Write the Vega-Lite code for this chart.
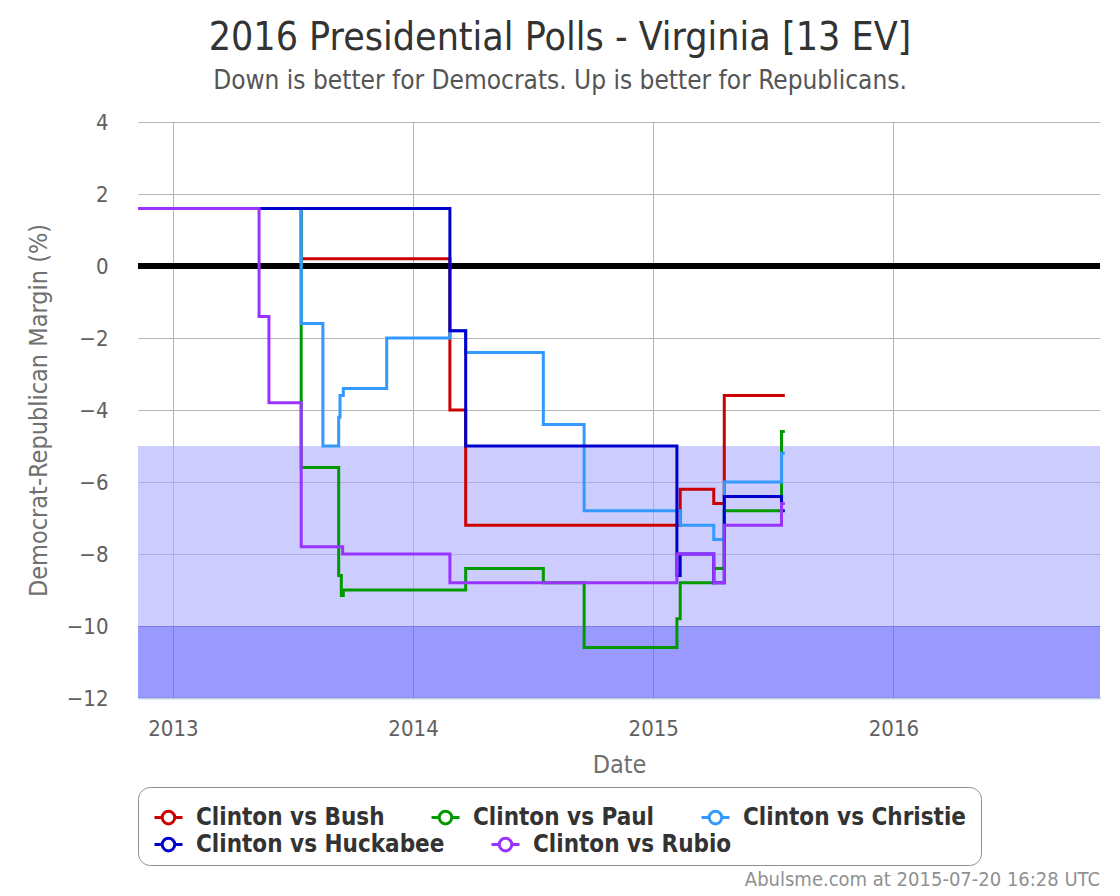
{
  "$schema": "https://vega.github.io/schema/vega-lite/v6.json",
  "width": 962,
  "height": 576,
  "autosize": {"type": "none"},
  "padding": {"left": 138, "top": 122, "right": 20, "bottom": 198},
  "background": "white",
  "config": {
    "font": "DejaVu Sans Condensed, DejaVu Sans",
    "view": {"stroke": null}
  },
  "title": {
    "text": "2016 Presidential Polls - Virginia [13 EV]",
    "subtitle": "Down is better for Democrats. Up is better for Republicans.",
    "anchor": "middle",
    "dx": -59,
    "offset": 17,
    "fontSize": 39,
    "fontWeight": "normal",
    "color": "#333333",
    "subtitleFontSize": 26,
    "subtitleColor": "#555555",
    "subtitlePadding": 10,
    "font": "DejaVu Sans Condensed, DejaVu Sans",
    "subtitleFont": "DejaVu Sans Condensed, DejaVu Sans"
  },
  "datasets": {
    "polls": [
      {"s": "Clinton vs Bush", "d": "2012-11-09", "v": 1.6},
      {"s": "Clinton vs Bush", "d": "2013-07-15", "v": 0.2},
      {"s": "Clinton vs Bush", "d": "2014-02-26", "v": -4.0},
      {"s": "Clinton vs Bush", "d": "2014-03-22", "v": -7.2},
      {"s": "Clinton vs Bush", "d": "2015-02-11", "v": -6.2},
      {"s": "Clinton vs Bush", "d": "2015-04-03", "v": -6.6},
      {"s": "Clinton vs Bush", "d": "2015-04-19", "v": -3.6},
      {"s": "Clinton vs Bush", "d": "2015-07-20", "v": -3.6},
      {"s": "Clinton vs Paul", "d": "2012-11-09", "v": 1.6},
      {"s": "Clinton vs Paul", "d": "2013-07-15", "v": -5.6},
      {"s": "Clinton vs Paul", "d": "2013-09-10", "v": -8.6},
      {"s": "Clinton vs Paul", "d": "2013-09-14", "v": -9.15},
      {"s": "Clinton vs Paul", "d": "2013-09-17", "v": -9.0},
      {"s": "Clinton vs Paul", "d": "2014-03-22", "v": -8.4},
      {"s": "Clinton vs Paul", "d": "2014-07-18", "v": -8.8},
      {"s": "Clinton vs Paul", "d": "2014-09-18", "v": -10.6},
      {"s": "Clinton vs Paul", "d": "2015-02-06", "v": -9.8},
      {"s": "Clinton vs Paul", "d": "2015-02-11", "v": -8.8},
      {"s": "Clinton vs Paul", "d": "2015-04-03", "v": -8.4},
      {"s": "Clinton vs Paul", "d": "2015-04-19", "v": -6.8},
      {"s": "Clinton vs Paul", "d": "2015-07-15", "v": -4.6},
      {"s": "Clinton vs Paul", "d": "2015-07-20", "v": -4.6},
      {"s": "Clinton vs Christie", "d": "2012-11-09", "v": 1.6},
      {"s": "Clinton vs Christie", "d": "2013-07-15", "v": -1.6},
      {"s": "Clinton vs Christie", "d": "2013-08-17", "v": -5.0},
      {"s": "Clinton vs Christie", "d": "2013-09-10", "v": -4.2},
      {"s": "Clinton vs Christie", "d": "2013-09-12", "v": -3.6},
      {"s": "Clinton vs Christie", "d": "2013-09-17", "v": -3.4},
      {"s": "Clinton vs Christie", "d": "2013-11-22", "v": -2.0},
      {"s": "Clinton vs Christie", "d": "2014-02-26", "v": -1.8},
      {"s": "Clinton vs Christie", "d": "2014-03-22", "v": -2.4},
      {"s": "Clinton vs Christie", "d": "2014-07-18", "v": -4.4},
      {"s": "Clinton vs Christie", "d": "2014-09-18", "v": -6.8},
      {"s": "Clinton vs Christie", "d": "2015-02-11", "v": -7.2},
      {"s": "Clinton vs Christie", "d": "2015-04-03", "v": -7.6},
      {"s": "Clinton vs Christie", "d": "2015-04-19", "v": -6.0},
      {"s": "Clinton vs Christie", "d": "2015-07-15", "v": -5.2},
      {"s": "Clinton vs Christie", "d": "2015-07-20", "v": -5.2},
      {"s": "Clinton vs Huckabee", "d": "2012-11-09", "v": 1.6},
      {"s": "Clinton vs Huckabee", "d": "2014-02-26", "v": -1.8},
      {"s": "Clinton vs Huckabee", "d": "2014-03-22", "v": -5.0},
      {"s": "Clinton vs Huckabee", "d": "2015-02-06", "v": -8.6},
      {"s": "Clinton vs Huckabee", "d": "2015-02-11", "v": -8.0},
      {"s": "Clinton vs Huckabee", "d": "2015-04-03", "v": -8.8},
      {"s": "Clinton vs Huckabee", "d": "2015-04-19", "v": -6.4},
      {"s": "Clinton vs Huckabee", "d": "2015-07-15", "v": -6.8},
      {"s": "Clinton vs Huckabee", "d": "2015-07-20", "v": -6.8},
      {"s": "Clinton vs Rubio", "d": "2012-11-09", "v": 1.6},
      {"s": "Clinton vs Rubio", "d": "2013-05-12", "v": -1.4},
      {"s": "Clinton vs Rubio", "d": "2013-05-27", "v": -3.8},
      {"s": "Clinton vs Rubio", "d": "2013-07-15", "v": -7.8},
      {"s": "Clinton vs Rubio", "d": "2013-09-16", "v": -8.0},
      {"s": "Clinton vs Rubio", "d": "2014-02-26", "v": -8.8},
      {"s": "Clinton vs Rubio", "d": "2015-02-06", "v": -8.0},
      {"s": "Clinton vs Rubio", "d": "2015-04-03", "v": -8.8},
      {"s": "Clinton vs Rubio", "d": "2015-04-19", "v": -7.2},
      {"s": "Clinton vs Rubio", "d": "2015-07-15", "v": -6.6},
      {"s": "Clinton vs Rubio", "d": "2015-07-20", "v": -6.6}
    ],
    "bands": [
      {"band": "lean", "lo": -10, "hi": -5},
      {"band": "strong", "lo": -12, "hi": -10}
    ],
    "stamp": [
      {"t": "Abulsme.com at 2015-07-20 16:28 UTC", "d": "2016-11-10", "v": -12}
    ]
  },
  "resolve": {"scale": {"color": "independent"}, "legend": {"color": "independent"}},
  "layer": [
    {
      "data": {"name": "bands"},
      "transform": [{"filter": {"field": "band", "equal": "lean"}}],
      "mark": {"type": "rect", "color": "#aaaaff", "opacity": 0.6},
      "encoding": {
        "y": {"field": "lo", "type": "quantitative", "scale": {"domain": [-12, 4], "nice": false}},
        "y2": {"field": "hi"}
      }
    },
    {
      "data": {"name": "bands"},
      "transform": [{"filter": {"field": "band", "equal": "strong"}}],
      "mark": {"type": "rect", "color": "#5555ff", "opacity": 0.6},
      "encoding": {
        "y": {"field": "lo", "type": "quantitative"},
        "y2": {"field": "hi"}
      }
    },
    {
      "data": {"name": "bands"},
      "mark": {"type": "rule", "color": "#000000", "strokeWidth": 6},
      "encoding": {"y": {"datum": 0, "type": "quantitative"}}
    },
    {
      "data": {"name": "polls"},
      "transform": [{"filter": {"field": "s", "oneOf": ["Clinton vs Bush", "Clinton vs Paul", "Clinton vs Christie"]}}],
      "mark": {"type": "line", "interpolate": "step-after", "strokeWidth": 3},
      "encoding": {
        "x": {
          "field": "d",
          "type": "temporal",
          "scale": {"domain": ["2012-11-09", "2016-11-10"]},
          "axis": {
            "title": "Date",
            "format": "%Y",
            "tickCount": {"interval": "year", "step": 1},
            "grid": true,
            "gridColor": "#b4b4b4",
            "gridWidth": 1,
            "ticks": false,
            "tickSize": 0,
            "domainColor": "#c0d0e0",
            "domainWidth": 2,
            "labelFontSize": 22,
            "labelColor": "#606060",
            "labelPadding": 20,
            "labelFlush": false,
            "titleFontSize": 25,
            "titleFontWeight": "normal",
            "titleColor": "#707070",
            "titlePadding": 13
          }
        },
        "y": {
          "field": "v",
          "type": "quantitative",
          "scale": {"domain": [-12, 4], "nice": false},
          "axis": {
            "title": "Democrat-Republican Margin (%)",
            "values": [-12, -10, -8, -6, -4, -2, 0, 2, 4],
            "grid": true,
            "gridColor": "#b4b4b4",
            "gridWidth": 1,
            "domain": false,
            "ticks": false,
            "tickSize": 0,
            "labelFontSize": 22,
            "labelColor": "#606060",
            "labelPadding": 30,
            "titleFontSize": 25,
            "titleFontWeight": "normal",
            "titleColor": "#707070",
            "titlePadding": 15
          }
        },
        "color": {
          "field": "s",
          "type": "nominal",
          "sort": null,
          "scale": {
            "domain": ["Clinton vs Bush", "Clinton vs Paul", "Clinton vs Christie"],
            "range": ["#cc0000", "#009900", "#3399ff"]
          },
          "legend": {
            "title": " ",
            "titleOrient": "bottom",
            "titleFontSize": 16,
            "titlePadding": 4,
            "orient": "none",
            "legendX": 0,
            "legendY": 665,
            "direction": "horizontal",
            "padding": 15,
            "strokeColor": "#909090",
            "fillColor": "white",
            "cornerRadius": 12,
            "labelFontSize": 24,
            "labelFontWeight": "bold",
            "labelColor": "#333333",
            "labelLimit": 500,
            "labelOffset": 12,
            "columnPadding": 40,
            "symbolType": "M-1,0H-0.45M0.45,0H1M-0.45,0A0.45,0.45,0,1,1,0.45,0A0.45,0.45,0,1,1,-0.45,0",
            "symbolSize": 784,
            "symbolStrokeWidth": 3,
            "symbolFillColor": "white"
          }
        }
      }
    },
    {
      "data": {"name": "polls"},
      "transform": [{"filter": {"field": "s", "oneOf": ["Clinton vs Huckabee", "Clinton vs Rubio"]}}],
      "mark": {"type": "line", "interpolate": "step-after", "strokeWidth": 3},
      "encoding": {
        "x": {"field": "d", "type": "temporal"},
        "y": {"field": "v", "type": "quantitative"},
        "color": {
          "field": "s",
          "type": "nominal",
          "sort": null,
          "scale": {
            "domain": ["Clinton vs Huckabee", "Clinton vs Rubio"],
            "range": ["#0000cc", "#9933ff"]
          },
          "legend": {
            "title": null,
            "orient": "none",
            "legendX": 15,
            "legendY": 707,
            "direction": "horizontal",
            "padding": 0,
            "labelFontSize": 24,
            "labelFontWeight": "bold",
            "labelColor": "#333333",
            "labelLimit": 500,
            "labelOffset": 12,
            "columnPadding": 40,
            "symbolType": "M-1,0H-0.45M0.45,0H1M-0.45,0A0.45,0.45,0,1,1,0.45,0A0.45,0.45,0,1,1,-0.45,0",
            "symbolSize": 784,
            "symbolStrokeWidth": 3,
            "symbolFillColor": "white"
          }
        }
      }
    },
    {
      "data": {"name": "stamp"},
      "mark": {"type": "text", "align": "right", "baseline": "alphabetic", "dy": 188, "fontSize": 20, "color": "#909090"},
      "encoding": {
        "x": {"field": "d", "type": "temporal"},
        "y": {"field": "v", "type": "quantitative"},
        "text": {"field": "t"}
      }
    }
  ]
}
